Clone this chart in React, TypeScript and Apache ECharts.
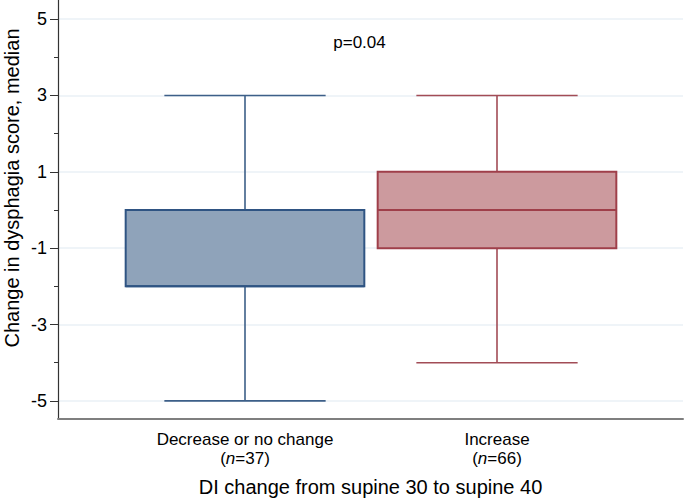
import React, { useEffect, useRef } from "react";
import * as echarts from "echarts";

const categories = ["Decrease or no change", "Increase"];
const nCounts = [37, 66];
const mins = [-5, -4];
const q1s = [-2, -1];
const medians = [-2, 0];
const q3s = [0, 1];
const maxs = [3, 3];
const pText = "p=0.04";
const yTitle = "Change in dysphagia score, median";
const xTitle = "DI change from supine 30 to supine 40";

const FONT = "'Liberation Sans', Arial, Helvetica, sans-serif";
const strokes = ["#2f5483", "#9f3f4a"];
const fills = ["#8fa3ba", "#cc9a9e"];
const whiskerCols = ["#3d5f88", "#a24c56"];

export default function App() {
  const ref = useRef<HTMLDivElement>(null);
  useEffect(() => {
    if (!ref.current) return;
    const chart = echarts.init(ref.current, undefined, { renderer: "svg" });
    const data = categories.map((_, i) => [i, mins[i], q1s[i], medians[i], q3s[i], maxs[i]]);
    chart.setOption({
      animation: false,
      backgroundColor: "#ffffff",
      textStyle: { fontFamily: FONT },
      grid: [
        { left: 58, right: 2, top: 19.1, bottom: 101.1, containLabel: false },
        { left: 119, right: 62, top: 0, bottom: 82, containLabel: false },
        { left: 58, right: 2, top: 0, bottom: 82, containLabel: false },
      ],
      xAxis: [
        { gridIndex: 0, type: "value", min: 0, max: 1, show: false },
        {
          gridIndex: 1,
          type: "category",
          data: categories,
          axisLine: { show: false },
          axisTick: { show: false },
          splitLine: { show: false },
          axisLabel: {
            margin: 10,
            color: "#000",
            fontSize: 17,
            lineHeight: 19,
            fontFamily: FONT,
            formatter: (v: string, i: number) => `${v}\n({i|n}=${nCounts[i]})`,
            rich: {
              i: { fontStyle: "italic", fontSize: 17, lineHeight: 19, color: "#000", fontFamily: FONT },
            },
          },
        },
        {
          gridIndex: 2,
          type: "value",
          min: 0,
          max: 1,
          axisLine: { show: true, onZero: false, lineStyle: { color: "#7f7f7f", width: 2 } },
          axisTick: { show: false },
          axisLabel: { show: false },
          splitLine: { show: false },
          name: xTitle,
          nameLocation: "middle",
          nameGap: 58,
          nameTextStyle: { color: "#000", fontSize: 20, fontFamily: FONT },
        },
      ],
      yAxis: [
        {
          gridIndex: 0,
          type: "value",
          min: -5,
          max: 5,
          interval: 2,
          axisLine: { show: false, onZero: false },
          axisTick: { show: true, length: 8, lineStyle: { color: "#333", width: 1 } },
          minorTick: { show: true, splitNumber: 2, length: 4, lineStyle: { color: "#333", width: 1 } },
          axisLabel: { color: "#000", fontSize: 18, margin: 11, fontFamily: FONT },
          splitLine: { show: true, lineStyle: { color: "#eaf0f6", width: 1.5 } },
        },
        { gridIndex: 1, type: "value", min: -5.5, max: 5.5, show: false },
        {
          gridIndex: 2,
          type: "value",
          min: -5.5,
          max: 5.5,
          axisLine: { show: true, onZero: false, lineStyle: { color: "#333", width: 1.2 } },
          axisTick: { show: false },
          axisLabel: { show: false },
          splitLine: { show: false },
        },
      ],
      series: [
        {
          type: "custom",
          xAxisIndex: 1,
          yAxisIndex: 1,
          data,
          encode: { x: 0, y: [1, 2, 3, 4, 5] },
          renderItem: (params: any, api: any) => {
            const idx = api.value(0);
            const c = (v: number) => api.coord([idx, v]);
            const band = api.size([1, 0])[0];
            const boxW = band * 0.947;
            const capW = band * 0.64;
            const pMin = c(api.value(1));
            const pQ1 = c(api.value(2));
            const pMed = c(api.value(3));
            const pQ3 = c(api.value(4));
            const pMax = c(api.value(5));
            const cx = pMed[0];
            const i = params.dataIndex;
            const wStyle = { stroke: whiskerCols[i], lineWidth: 1.6 };
            return {
              type: "group",
              children: [
                { type: "line", shape: { x1: cx, y1: pMax[1], x2: cx, y2: pQ3[1] }, style: wStyle },
                { type: "line", shape: { x1: cx, y1: pQ1[1], x2: cx, y2: pMin[1] }, style: wStyle },
                { type: "line", shape: { x1: cx - capW / 2, y1: pMax[1], x2: cx + capW / 2, y2: pMax[1] }, style: wStyle },
                { type: "line", shape: { x1: cx - capW / 2, y1: pMin[1], x2: cx + capW / 2, y2: pMin[1] }, style: wStyle },
                {
                  type: "rect",
                  shape: { x: cx - boxW / 2, y: pQ3[1], width: boxW, height: pQ1[1] - pQ3[1] },
                  style: { fill: fills[i], stroke: strokes[i], lineWidth: 2 },
                },
                {
                  type: "line",
                  shape: { x1: cx - boxW / 2, y1: pMed[1], x2: cx + boxW / 2, y2: pMed[1] },
                  style: { stroke: strokes[i], lineWidth: 2 },
                },
              ],
            };
          },
        },
      ],
      graphic: [
        {
          type: "text",
          x: 359.5,
          y: 42,
          style: { text: pText, fontSize: 17, fontFamily: FONT, fill: "#000", align: "center", verticalAlign: "middle" },
        },
        {
          type: "text",
          x: 12,
          y: 188,
          rotation: Math.PI / 2,
          style: { text: yTitle, fontSize: 20, fontFamily: FONT, fill: "#000", align: "center", verticalAlign: "middle" },
        },
      ],
    });
    return () => chart.dispose();
  }, []);
  return <div ref={ref} style={{ position: "fixed", left: 0, top: 0, width: 685, height: 502 }} />;
}
